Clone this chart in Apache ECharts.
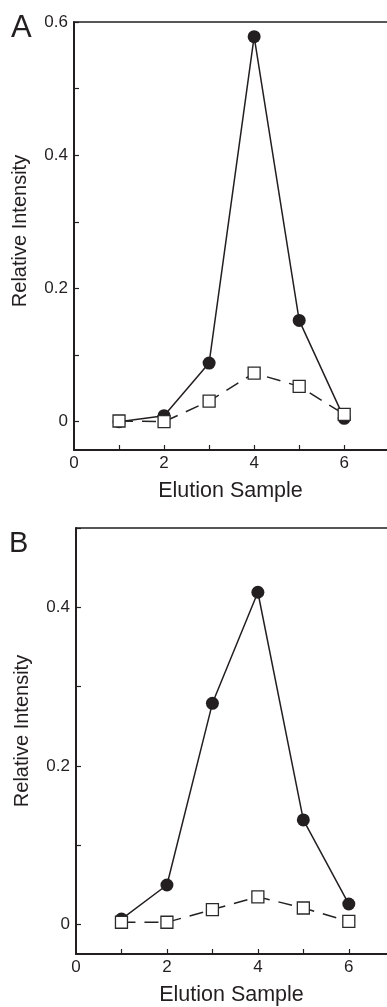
<!DOCTYPE html>
<html>
<head>
<meta charset="utf-8">
<script src="https://cdn.jsdelivr.net/npm/echarts@6/dist/echarts.min.js"></script>
<style>
html,body{margin:0;padding:0;background:#fff;}
#chart{width:387px;height:1007px;}
</style>
</head>
<body>
<div id="chart"></div>
<script>
// Data
const samples = [1, 2, 3, 4, 5, 6];
const panelA_filled = [0.0, 0.009, 0.088, 0.578, 0.152, 0.005];
const panelA_open   = [0.001, 0.0, 0.031, 0.073, 0.053, 0.011];
const panelB_filled = [0.007, 0.050, 0.279, 0.419, 0.132, 0.026];
const panelB_open   = [0.003, 0.003, 0.019, 0.035, 0.021, 0.004];
const xTickValues = [1, 2, 3, 4, 5, 6];
const xLabelValues = [0, 2, 4, 6];
const yTickValuesA = [0, 0.1, 0.2, 0.3, 0.4, 0.5, 0.6];
const yLabelValuesA = [0, 0.2, 0.4, 0.6];
const yTickValuesB = [0, 0.1, 0.2, 0.3, 0.4, 0.5];
const yLabelValuesB = [0, 0.2, 0.4];
const xName = 'Elution Sample';
const yName = 'Relative Intensity';
const panelLabels = ['A', 'B'];

const ink = '#231f20';
const font = 'Liberation Sans, Arial, Helvetica, sans-serif';

function pairs(xs, ys) { return xs.map((x, i) => [x, ys[i]]); }

function xAxisCfg(gridIndex, xmax) {
  return {
    type: 'value', gridIndex, min: 0, max: xmax,
    name: xName, nameLocation: 'middle', nameGap: 30,
    nameTextStyle: { fontFamily: font, fontSize: 21.5, color: ink },
    axisLine: { show: true, onZero: false, lineStyle: { color: ink, width: 2 } },
    axisTick: { show: true, inside: true, length: 5, customValues: xTickValues, lineStyle: { color: ink, width: 1.2 } },
    axisLabel: { show: true, margin: 5, customValues: xLabelValues, fontFamily: font, fontSize: 17, color: ink },
    splitLine: { show: false }
  };
}
function topAxisCfg(gridIndex, xmax) {
  return {
    type: 'value', gridIndex, min: 0, max: xmax, position: 'top',
    axisLine: { show: true, onZero: false, lineStyle: { color: ink, width: 1.5 } },
    axisTick: { show: false }, axisLabel: { show: false }, splitLine: { show: false }
  };
}
function yAxisCfg(gridIndex, min, max, ticks, labels, shift) {
  return {
    type: 'value', gridIndex, min, max,
    name: yName, nameLocation: 'middle', nameGap: 44,
    nameTextStyle: { fontFamily: font, fontSize: 20, color: ink, padding: [0, 0, 0, shift] },
    axisLine: { show: true, onZero: false, lineStyle: { color: ink, width: 2 } },
    axisTick: { show: true, inside: true, length: 5, customValues: ticks, lineStyle: { color: ink, width: 1.2 } },
    axisLabel: { show: true, margin: 6, customValues: labels, fontFamily: font, fontSize: 17, color: ink },
    splitLine: { show: false }
  };
}
function filledSeries(idx, ys) {
  return {
    type: 'line', xAxisIndex: idx * 2, yAxisIndex: idx, data: pairs(samples, ys),
    symbol: 'circle', symbolSize: 13,
    itemStyle: { color: ink },
    lineStyle: { color: ink, width: 1.5 },
    z: 2, animation: false
  };
}
function openSeries(idx, ys) {
  return {
    type: 'line', xAxisIndex: idx * 2, yAxisIndex: idx, data: pairs(samples, ys),
    symbol: 'rect', symbolSize: 12,
    itemStyle: { color: '#fff', borderColor: '#2a2a2a', borderWidth: 1.3 },
    lineStyle: { color: '#222', width: 1.5, type: [14, 9] },
    z: 3, animation: false
  };
}

const chart = echarts.init(document.getElementById('chart'), null, { renderer: 'canvas' });
chart.setOption({
  backgroundColor: '#fff',
  animation: false,
  grid: [
    { left: 74, right: 0, top: 22, bottom: 557 },
    { left: 76, right: 0, top: 528, bottom: 50 }
  ],
  xAxis: [xAxisCfg(0, 6.95), topAxisCfg(0, 6.95), xAxisCfg(1, 6.84), topAxisCfg(1, 6.84)],
  yAxis: [
    yAxisCfg(0, -0.0425, 0.6, yTickValuesA, yLabelValuesA, 10),
    yAxisCfg(1, -0.037, 0.5, yTickValuesB, yLabelValuesB, 20)
  ],
  series: [
    filledSeries(0, panelA_filled), openSeries(0, panelA_open),
    filledSeries(1, panelB_filled), openSeries(1, panelB_open)
  ],
  graphic: [
    { type: 'text', left: 11, top: 13, style: { text: panelLabels[0], fontFamily: font, fontSize: 31, fill: ink } },
    { type: 'text', left: 9, top: 529, style: { text: panelLabels[1], fontFamily: font, fontSize: 29, fill: ink } }
  ]
});
</script>
</body>
</html>
